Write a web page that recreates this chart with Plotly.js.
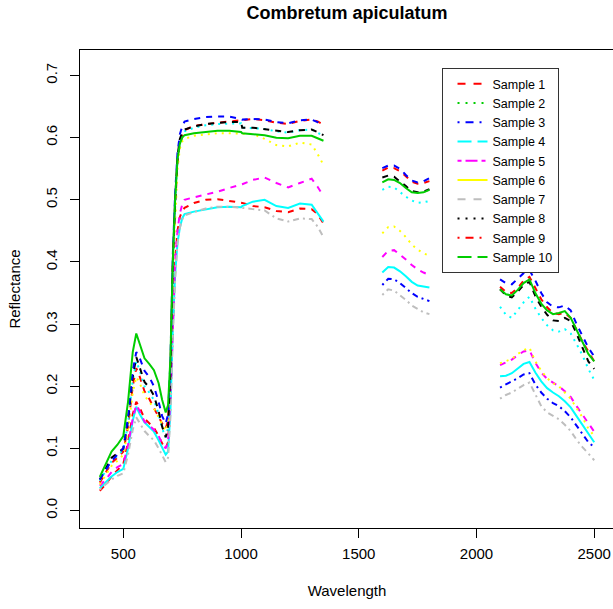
<!DOCTYPE html>
<html>
<head>
<meta charset="utf-8">
<script src="https://cdn.plot.ly/plotly-3.0.1.min.js"></script>
<style>
  html, body { margin: 0; padding: 0; overflow: hidden; background: #fff; }
  #chart { width: 620px; height: 609px; }
</style>
</head>
<body>
<div id="chart"></div>
<script>
// Wavelength grid (nm): VIS-NIR, SWIR1, SWIR2 (water bands removed)
const wavelength = [400,425,450,475,500,520,540,555,570,590,610,630,650,665,680,690,700,710,720,730,740,750,
  760,800,850,900,950,1000,1005,1050,1100,1150,1200,1250,1300,1325,1350,
  1600,1625,1650,1675,1700,1725,1750,1775,1800,
  2100,2125,2150,2175,2200,2225,2250,2275,2300,2325,2350,2375,2400,2425,2450,2475,2500];

const sample1 = [.045,.06,.077,.085,.095,.135,.2,.229,.215,.192,.18,.165,.15,.14,.132,.145,.22,.39,.49,.56,.59,.603,
  .612,.619,.622,.624,.626,.627,.628,.63,.628,.624,.622,.627,.629,.626,.621,
  .547,.552,.551,.546,.538,.529,.526,.527,.53,
  .36,.352,.35,.358,.37,.376,.358,.34,.327,.318,.316,.318,.31,.29,.272,.256,.24];
const sample2 = [.048,.064,.08,.088,.098,.14,.21,.24,.225,.2,.19,.178,.155,.132,.118,.133,.215,.39,.495,.565,.595,.605,
  .61,.616,.62,.622,.623,.623,.616,.615,.614,.61,.608,.612,.613,.608,.603,
  .516,.521,.52,.512,.505,.499,.495,.496,.498,
  .328,.315,.31,.322,.335,.344,.325,.31,.298,.29,.288,.292,.285,.268,.25,.228,.21];
const sample3 = [.032,.042,.055,.065,.075,.11,.155,.175,.165,.148,.14,.133,.12,.108,.1,.11,.18,.31,.40,.45,.472,.482,
  .487,.495,.50,.501,.498,.495,.495,.49,.488,.482,.48,.486,.485,.477,.462,
  .363,.373,.372,.366,.358,.35,.344,.34,.337,
  .198,.203,.207,.213,.219,.221,.203,.19,.18,.173,.168,.16,.15,.136,.122,.11,.102];
const sample4 = [.036,.045,.055,.062,.067,.1,.145,.167,.155,.142,.134,.127,.113,.1,.09,.095,.16,.29,.38,.43,.455,.47,
  .477,.481,.485,.488,.489,.488,.49,.497,.50,.49,.487,.494,.492,.478,.465,
  .383,.392,.391,.385,.377,.368,.362,.36,.359,
  .216,.217,.221,.228,.236,.239,.222,.208,.197,.19,.184,.176,.166,.152,.138,.122,.11];
const sample5 = [.04,.05,.062,.07,.075,.105,.148,.17,.16,.143,.137,.13,.12,.108,.1,.11,.18,.31,.40,.45,.478,.492,
  .50,.504,.508,.513,.519,.524,.525,.532,.536,.527,.52,.527,.534,.521,.506,
  .408,.418,.419,.412,.404,.395,.388,.383,.379,
  .234,.238,.243,.25,.256,.258,.238,.222,.212,.206,.2,.192,.183,.168,.155,.14,.127];
const sample6 = [.042,.058,.072,.08,.09,.13,.19,.215,.205,.185,.175,.165,.15,.138,.128,.14,.21,.38,.48,.55,.582,.594,
  .598,.603,.605,.607,.607,.606,.606,.606,.598,.588,.586,.592,.589,.574,.556,
  .446,.456,.457,.45,.44,.428,.42,.414,.41,
  .237,.24,.244,.252,.258,.262,.24,.225,.213,.205,.2,.19,.18,.165,.15,.132,.12];
const sample7 = [.034,.042,.05,.056,.06,.09,.13,.15,.14,.128,.12,.113,.1,.088,.078,.085,.15,.28,.37,.43,.455,.468,
  .475,.48,.486,.489,.489,.487,.487,.485,.483,.47,.465,.47,.469,.457,.44,
  .347,.356,.354,.347,.339,.33,.324,.319,.316,
  .18,.186,.19,.196,.202,.206,.187,.168,.158,.152,.147,.138,.128,.114,.102,.092,.081];
const sample8 = [.05,.068,.085,.092,.10,.145,.215,.247,.23,.207,.198,.185,.16,.135,.118,.135,.22,.40,.50,.57,.598,.608,
  .613,.618,.622,.624,.625,.625,.616,.616,.614,.611,.609,.612,.613,.609,.604,
  .536,.539,.537,.53,.522,.514,.512,.513,.517,
  .356,.346,.343,.352,.363,.368,.345,.328,.315,.306,.305,.31,.305,.285,.262,.24,.228];
const sample9 = [.05,.065,.08,.09,.10,.15,.225,.255,.245,.225,.215,.2,.175,.152,.14,.155,.24,.41,.51,.575,.605,.618,
  .626,.63,.633,.634,.634,.63,.629,.63,.629,.625,.623,.628,.629,.625,.62,
  .551,.555,.555,.55,.54,.531,.528,.53,.535,
  .372,.366,.364,.373,.382,.387,.37,.35,.335,.328,.327,.33,.322,.3,.28,.262,.248];
const sample10 = [.054,.075,.095,.106,.12,.175,.255,.285,.268,.245,.236,.226,.205,.178,.158,.17,.245,.40,.50,.565,.59,.60,
  .604,.607,.609,.611,.611,.609,.607,.606,.604,.6,.599,.603,.603,.599,.595,
  .528,.533,.532,.527,.519,.512,.511,.512,.516,
  .356,.348,.346,.355,.366,.372,.35,.333,.322,.316,.318,.321,.31,.29,.27,.252,.24];

const sampleNames = ['Sample 1','Sample 2','Sample 3','Sample 4','Sample 5','Sample 6','Sample 7','Sample 8','Sample 9','Sample 10'];
const samples = [sample1,sample2,sample3,sample4,sample5,sample6,sample7,sample8,sample9,sample10];

// Spectral regions drawn as separate pieces
const regions = [[400,1350],[1600,1800],[2100,2500]];

// Styles
const RED='#FF0000', GREEN='#00CD00', BLUE='#0000FF', CYAN='#00FFFF', MAGENTA='#FF00FF', YELLOW='#FFFF00', GRAY='#BEBEBE', BLACK='#000000';
const DASH = {
  solid: 'solid', dashed: '6px,6px', dotted: '2px,5px', dotdash: '2px,4px,6px,4px',
  longdash: '11px,5px', twodash: '4px,4px,11px,4px'
};
// plotted line style per sample, per region (VIS-NIR, SWIR1, SWIR2)
const plotColor = [
  [RED,RED,RED],[CYAN,CYAN,CYAN],[RED,BLUE,BLUE],[CYAN,CYAN,CYAN],[MAGENTA,MAGENTA,MAGENTA],
  [YELLOW,YELLOW,YELLOW],[GRAY,GRAY,GRAY],[BLACK,BLACK,BLACK],[BLUE,BLUE,BLUE],[GREEN,GREEN,GREEN]];
const plotDash = [
  ['dashed','dashed','dashed'],['dotted','dotted','dotted'],['dashed','dotdash','dotdash'],['solid','solid','solid'],
  ['dashed','dashed','dashed'],['dotted','dotted','dotted'],['dotdash','dotdash','dotdash'],['dashed','dashed','dashed'],
  ['dashed','dashed','dashed'],['solid','solid','solid']];
// legend key styles
const legendColor = [RED,GREEN,BLUE,CYAN,MAGENTA,YELLOW,GRAY,BLACK,RED,GREEN];
const legendDash = ['8px,8px','2px,6px','2px,6px,8px,6px','14px,6px','4px,4px,12px,4px','solid','8px,8px','2px,6px','2px,6px,8px,6px','14px,6px'];

const traces = [];
samples.forEach((vals, i) => {
  regions.forEach((r, k) => {
    const xs = [], ys = [];
    wavelength.forEach((w, j) => { if (w >= r[0] && w <= r[1]) { xs.push(w); ys.push(vals[j]); } });
    traces.push({
      x: xs, y: ys, type: 'scatter', mode: 'lines', showlegend: false, hoverinfo: 'skip',
      line: { color: plotColor[i][k], width: 2, dash: DASH[plotDash[i][k]] }
    });
  });
});
// legend keys
sampleNames.forEach((n, i) => {
  traces.push({
    x: [null], y: [null], type: 'scatter', mode: 'lines', name: n, showlegend: true,
    line: { color: legendColor[i], width: 2, dash: legendDash[i] }
  });
});

const FONT = '"Liberation Sans", Arial, Helvetica, sans-serif';
const layout = {
  width: 620, height: 609,
  margin: { l: 80, r: 6, t: 50, b: 81 },
  paper_bgcolor: '#fff', plot_bgcolor: '#fff',
  font: { family: FONT, size: 15, color: '#000' },
  title: { text: '<b>Combretum apiculatum</b>', font: { family: FONT, size: 18, color: '#000' },
           x: 0.5, xref: 'paper', xanchor: 'center', y: 1 - 13/609, yref: 'container', yanchor: 'middle' },
  xaxis: {
    range: [316, 2584], tickvals: [500,1000,1500,2000,2500], ticks: 'outside', ticklen: 9, tickwidth: 1, tickcolor: '#000',
    showline: true, mirror: true, linecolor: '#000', linewidth: 1, showgrid: false, zeroline: false,
    tickfont: { family: FONT, size: 15, color: '#000' }, ticklabelstandoff: 3,
    title: { text: 'Wavelength', font: { family: FONT, size: 15, color: '#000' }, standoff: 24 }
  },
  yaxis: {
    range: [-0.028, 0.741], tickvals: [0,0.1,0.2,0.3,0.4,0.5,0.6,0.7], tickformat: '.1f', tickangle: -90,
    ticks: 'outside', ticklen: 9, tickwidth: 1, tickcolor: '#000',
    showline: true, mirror: true, linecolor: '#000', linewidth: 1, showgrid: false, zeroline: false,
    tickfont: { family: FONT, size: 15, color: '#000' }, ticklabelstandoff: 7,
    title: { text: 'Reflectance', font: { family: FONT, size: 15, color: '#000' }, standoff: 18 }
  },
  legend: {
    x: 0.677, xanchor: 'left', y: 0.962, yanchor: 'top', bgcolor: '#fff',
    bordercolor: '#333', borderwidth: 1, font: { family: FONT, size: 12.5, color: '#000' },
    tracegroupgap: 0, indentation: 10, entrywidth: 120, entrywidthmode: 'pixels'
  }
};

Plotly.newPlot('chart', traces, layout, { staticPlot: true, displayModeBar: false });
</script>
</body>
</html>
